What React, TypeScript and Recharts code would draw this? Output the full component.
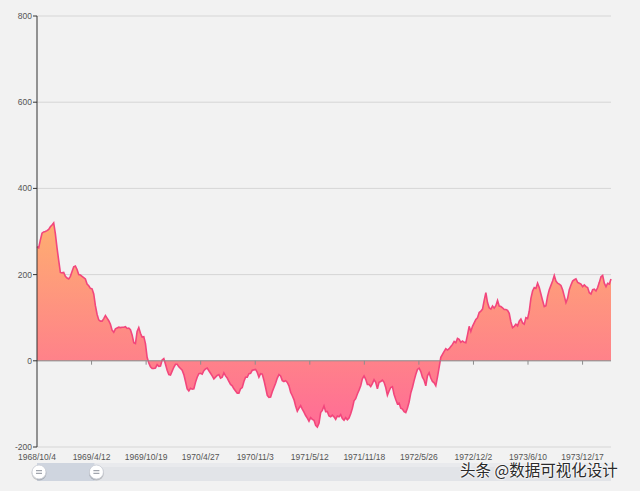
import React from 'react';
import { AreaChart, Area, XAxis, YAxis, CartesianGrid, ReferenceLine } from 'recharts';

const tickLabels = ['1968/10/4', '1969/4/12', '1969/10/19', '1970/4/27', '1970/11/3', '1971/5/12', '1971/11/18', '1972/5/26', '1972/12/2', '1973/6/10', '1973/12/17'];
const tickDays = [0, 190, 380, 570, 760, 950, 1140, 1330, 1520, 1710, 1900];
const yTicks = [-200, 0, 200, 400, 600, 800];
const DAY_SPAN = 1999;
const zoomRange = [0, 10];
const watermark = '头条 @数据可视化设计';

const values = [
  265, 262, 280, 296, 299, 300, 302, 305, 311, 315,
  320, 295, 262, 233, 205, 204, 205, 196, 192, 190,
  196, 207, 218, 220, 212, 200, 199, 196, 193, 190,
  178, 174, 168, 167, 155, 128, 108, 95, 92, 92,
  98, 105, 99, 93, 85, 71, 66, 74, 76,
  78, 77, 78, 78, 79, 75, 76, 72, 60, 42,
  40, 68, 77, 64, 55, 56, 40, 8, -5, -14,
  -18, -18, -17, -9, -13, -12, 2, 5, -8, -22,
  -32, -33, -24, -15, -8, -8, -14, -18, -22, -32,
  -48, -65, -70, -64, -66, -65, -50, -38, -30, -29,
  -31, -23, -19, -17, -23, -29, -35, -42, -38, -34,
  -32, -40, -38, -28, -35, -40, -48, -55, -58, -65,
  -70, -75, -75, -65, -62, -48, -38, -38, -30, -29,
  -22, -21, -20, -27, -38, -30, -31, -45, -62, -80,
  -85, -84, -72, -62, -52, -40, -32, -35, -46, -48,
  -46, -50, -58, -73, -81, -90, -105, -117, -110, -104,
  -112, -119, -127, -133, -140, -132, -136, -138, -150, -154,
  -145,
  -120, -115, -105, -118, -118, -128, -130, -126, -130, -136,
  -128, -130, -125, -134, -138, -132, -137, -133, -123, -110,
  -93, -88, -77, -68, -58, -42, -35, -43, -55, -55,
  -60, -53, -44, -50, -65, -50, -48, -45, -50, -62,
  -80, -70, -62, -60, -78, -90, -100, -98, -110, -112,
  -118, -120, -110, -96, -75, -62, -46, -32, -20, -17,
  -25, -38, -45, -58, -35, -28, -40, -48, -51, -58,
  -38, -15, 8, 15, 22, 28, 25, 28, 33, 38,
  45, 42, 52, 50, 43, 46, 43, 42, 60, 80,
  68, 80, 88, 96, 100, 112, 115, 120, 140, 158,
  135, 123, 120, 127, 122, 128, 140, 127, 126, 123,
  119, 119, 117, 110, 90, 77, 80, 85, 81, 92,
  97, 88, 85, 100, 98, 115, 145, 162, 170, 168,
  180, 170, 155, 140, 126, 128, 150, 165, 175, 185,
  198, 185, 180, 178, 175, 165, 150, 135, 145, 165,
  176, 185, 188, 190, 182, 180, 178, 172, 176, 172,
  170, 158, 155, 165, 166, 162, 170, 182, 195, 198,
  180, 172, 180, 178, 190,
];

const data = values.map((v, i) => ({ day: (i * DAY_SPAN) / (values.length - 1), value: v }));

const W = 640;
const H = 491;
const PLOT_LEFT = 37;
const PLOT_RIGHT = 29;
const PLOT_W = W - PLOT_LEFT - PLOT_RIGHT;
const FONT = "'Liberation Sans', Arial, sans-serif";

function Slider() {
  const top = 463;
  const h = 18;
  const x0 = PLOT_LEFT + (zoomRange[0] / 100) * PLOT_W;
  const x1 = PLOT_LEFT + (zoomRange[1] / 100) * PLOT_W;
  const handle = (cx: number, key: string) => (
    <g key={key}>
      <circle cx={cx} cy={top + h / 2 + 1} r={7.5} fill="rgba(0,0,0,0.18)" />
      <circle cx={cx} cy={top + h / 2} r={7} fill="#ffffff" stroke="#c8ccd4" strokeWidth={0.8} />
      <line x1={cx - 3} x2={cx + 3} y1={top + h / 2 - 1.3} y2={top + h / 2 - 1.3} stroke="#8a8f99" strokeWidth={1} />
      <line x1={cx - 3} x2={cx + 3} y1={top + h / 2 + 1.3} y2={top + h / 2 + 1.3} stroke="#8a8f99" strokeWidth={1} />
    </g>
  );
  return (
    <svg width={W} height={H} style={{ position: 'absolute', left: 0, top: 0, pointerEvents: 'none' }}>
      <rect x={PLOT_LEFT} y={top} width={PLOT_W} height={h} fill="#e2e4e8" />
      <rect x={PLOT_LEFT} y={top} width={PLOT_W} height={4} fill="#e9eaed" />
      <rect x={x0} y={top} width={x1 - x0} height={h} fill="#cfd5df" />
      {handle(x0 + 2, 'a')}
      {handle(x1 + 2, 'b')}
    </svg>
  );
}

export default function App() {
  return (
    <div style={{ position: 'absolute', left: 0, top: 0, width: W, height: H, background: '#f2f2f2', overflow: 'hidden' }}>
      <AreaChart width={W} height={H} data={data} margin={{ top: 16, right: PLOT_RIGHT, bottom: 28, left: 0 }}>
        <defs>
          <linearGradient id="areaFill" x1="0" y1="0" x2="0" y2="1">
            <stop offset="0%" stopColor="rgb(254,174,112)" />
            <stop offset="100%" stopColor="rgb(255,108,150)" />
          </linearGradient>
        </defs>
        <CartesianGrid vertical={false} stroke="#d6d6d6" />
        <XAxis
          type="number"
          dataKey="day"
          domain={[0, DAY_SPAN]}
          ticks={tickDays}
          interval={0}
          tickFormatter={(d: number) => tickLabels[tickDays.indexOf(d)] ?? ''}
          axisLine={false}
          tickLine={false}
          height={16}
          tickSize={5}
          tickMargin={2}
          tick={{ fontSize: 8.5, fill: '#555', fontFamily: FONT }}
        />
        <YAxis
          type="number"
          domain={[-200, 800]}
          ticks={yTicks}
          interval={0}
          width={PLOT_LEFT}
          axisLine={{ stroke: '#333', strokeWidth: 1 }}
          tickLine={{ stroke: '#333' }}
          tickSize={4}
          tickMargin={1}
          tick={{ fontSize: 8.5, fill: '#555', fontFamily: FONT }}
        />
        <Area
          type="linear"
          dataKey="value"
          baseValue={0}
          stroke="#f2467c"
          strokeWidth={1.6}
          fill="url(#areaFill)"
          fillOpacity={1}
          dot={false}
          activeDot={false}
          isAnimationActive={false}
        />
        <ReferenceLine y={0} stroke="#8c8c8c" strokeWidth={1} />
        {tickDays.slice(1).map((d) => (
          <ReferenceLine
            key={d}
            segment={[{ x: d, y: 0 }, { x: d, y: -9 }]}
            stroke="#8c8c8c"
            ifOverflow="visible"
          />
        ))}
      </AreaChart>
      <Slider />
      <div
        style={{
          position: 'absolute',
          left: 460,
          top: 458,
          fontSize: 15.5,
          fontFamily: "'Noto Sans CJK SC', sans-serif",
          color: '#2a2a2a',
          whiteSpace: 'nowrap',
          textShadow: '0 0 2px #fff, 0 0 2px #fff, 0 0 3px #fff',
        }}
      >
        {watermark}
      </div>
    </div>
  );
}
